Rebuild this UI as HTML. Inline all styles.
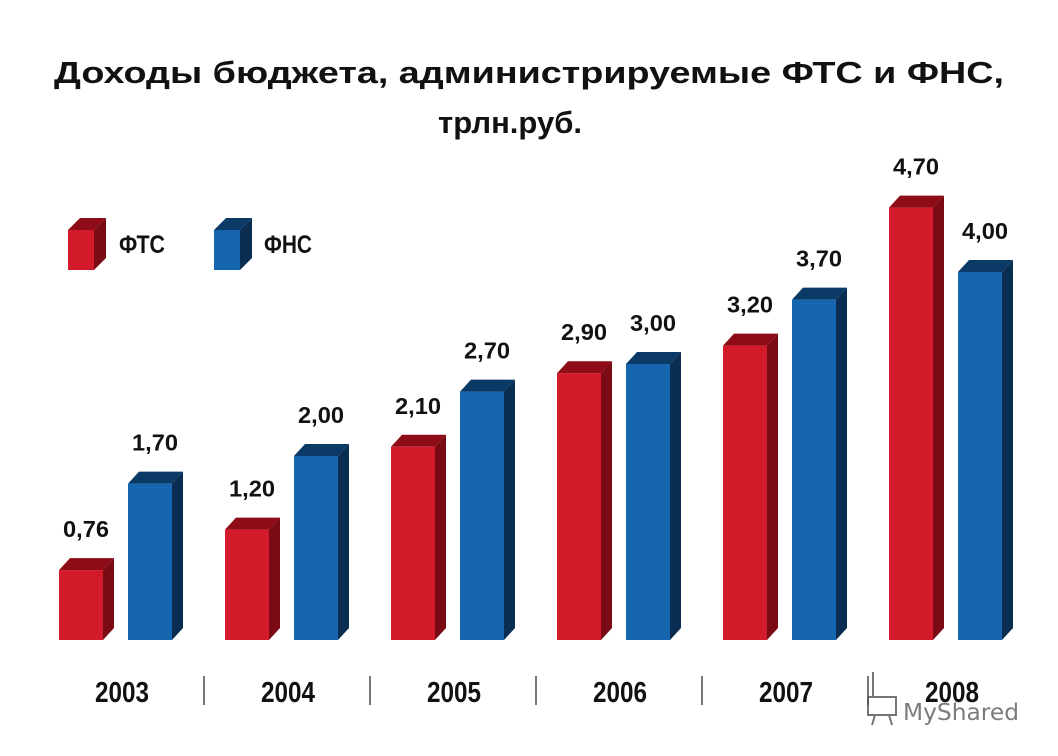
<!DOCTYPE html>
<html><head><meta charset="utf-8"><style>
html,body{margin:0;padding:0;background:#fff;}
svg{display:block;}
</style></head><body>
<svg id="chart" width="1058" height="756" viewBox="0 0 1058 756">
<text x="529" y="83" text-anchor="middle" font-family="Liberation Sans, sans-serif" font-weight="bold" font-size="31" fill="#111" textLength="950" lengthAdjust="spacingAndGlyphs">Доходы бюджета, администрируемые ФТС и ФНС,</text>
<text x="510" y="133" text-anchor="middle" font-family="Liberation Sans, sans-serif" font-weight="bold" font-size="31" fill="#111">трлн.руб.</text>
<g>
 <g>
  <polygon points="68,230 80,218 106,218 94,230" fill="#8e0c18"/>
  <polygon points="94,230 106,218 106,258 94,270" fill="#7a0a14"/>
  <rect x="68" y="230" width="26" height="40" fill="#d21a2a"/>
  <text x="119" y="253" font-family="Liberation Sans, sans-serif" font-weight="bold" font-size="25" fill="#111" textLength="46" lengthAdjust="spacingAndGlyphs">ФТС</text>
 </g>
 <g>
  <polygon points="214,230 226,218 252,218 240,230" fill="#0c3a66"/>
  <polygon points="240,230 252,218 252,258 240,270" fill="#092e52"/>
  <rect x="214" y="230" width="26" height="40" fill="#1566ae"/>
  <text x="264" y="253" font-family="Liberation Sans, sans-serif" font-weight="bold" font-size="25" fill="#111" textLength="48" lengthAdjust="spacingAndGlyphs">ФНС</text>
 </g>
</g>
<g id="bars"></g>
<text x="903" y="720" font-family="DejaVu Sans, sans-serif" font-size="23" fill="#666" opacity="0.85" textLength="116" lengthAdjust="spacingAndGlyphs">MyShared</text>
<g stroke="#555" stroke-width="2" fill="none" opacity="0.8">
 <line x1="873" y1="672" x2="873" y2="696"/>
 <rect x="868" y="697" width="28" height="18"/>
 <line x1="875" y1="715" x2="872" y2="725"/><line x1="889" y1="715" x2="892" y2="725"/>
</g>
</svg>
<script>
const years = ['2003','2004','2005','2006','2007','2008'];
const ftsValues = [0.76, 1.20, 2.10, 2.90, 3.20, 4.70];
const fnsValues = [1.70, 2.00, 2.70, 3.00, 3.70, 4.00];
const ftsLabels = ['0,76','1,20','2,10','2,90','3,20','4,70'];
const fnsLabels = ['1,70','2,00','2,70','3,00','3,70','4,00'];

const NS = 'http://www.w3.org/2000/svg';
const g = document.getElementById('bars');
const baseY = 640, scale = 92, step = 166, x0 = 59, bw = 44, dx = 11, dy = 12;
function yPos(v){ return baseY - v*scale; }
function xPos(i, s){ return x0 + i*step + s*69; }
function mk(tag, attrs){ const e = document.createElementNS(NS, tag); for (const k in attrs) e.setAttribute(k, attrs[k]); return e; }

function bar(i, s, v, label, cols, series){
  const x = xPos(i, s), y = yPos(v);
  const grp = mk('g', {});
  
  
  grp.appendChild(mk('polygon', {points: `${x},${y} ${x+dx},${y-dy} ${x+bw+dx},${y-dy} ${x+bw},${y}`, fill: cols[1]}));
  grp.appendChild(mk('polygon', {points: `${x+bw},${y} ${x+bw+dx},${y-dy} ${x+bw+dx},${baseY-dy} ${x+bw},${baseY}`, fill: cols[2]}));
  grp.appendChild(mk('rect', {x: x, y: y, width: bw, height: baseY - y, fill: cols[0]}));
  g.appendChild(grp);
  const t = mk('text', {x: x + bw/2 + 5, y: y - 33, 'text-anchor': 'middle', 'font-family': 'Liberation Sans, sans-serif', 'font-weight': 'bold', 'font-size': '23', fill: '#111', textLength: '46', lengthAdjust: 'spacingAndGlyphs'});
  t.textContent = label;
  
  
  g.appendChild(t);
}
for (let i = 0; i < years.length; i++){
  bar(i, 0, ftsValues[i], ftsLabels[i], ['#d21a2a', '#8e0c18', '#7a0a14'], 'fts');
  bar(i, 1, fnsValues[i], fnsLabels[i], ['#1566ae', '#0c3a66', '#092e52'], 'fns');
  const yt = mk('text', {x: xPos(i, 0) + 63, y: 702, 'text-anchor': 'middle', 'font-family': 'Liberation Sans, sans-serif', 'font-weight': 'bold', 'font-size': '29', fill: '#111', textLength: '54', lengthAdjust: 'spacingAndGlyphs'});
  yt.textContent = years[i];
  
  
  g.appendChild(yt);
  if (i < years.length - 1){
    const sep = mk('line', {x1: xPos(i, 0) + 145, x2: xPos(i, 0) + 145, y1: 676, y2: 705, stroke: '#777', 'stroke-width': 2});
    
    
    g.appendChild(sep);
  }
}
</script>
</body></html>
